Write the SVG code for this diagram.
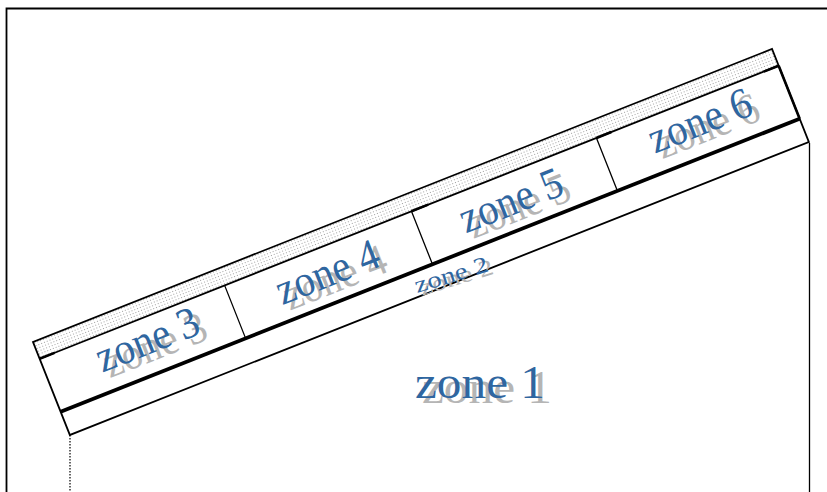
<svg xmlns="http://www.w3.org/2000/svg" width="827" height="492" viewBox="0 0 827 492">
<defs>
<pattern id="dots" width="3" height="3" patternUnits="userSpaceOnUse"><rect x="1" y="1" width="1" height="1" fill="#a0a0a0"/></pattern>
<style>
.ln{stroke:#000;fill:none;stroke-width:1.8}
.thin{stroke:#000;fill:none;stroke-width:1.3}
.thick{stroke:#000;fill:none;stroke-width:3.8}
.tick{stroke:#000;fill:none;stroke-width:2.6}
.lbl{font-family:"Liberation Serif","Times New Roman",serif;fill:#2f66a0}
.sh{font-family:"Liberation Serif","Times New Roman",serif;fill:#b5b5b5}
</style>
</defs>
<rect width="827" height="492" fill="#fff"/>
<g id="frame"><path d="M6.5,492 V8.5 H827" class="ln"/></g>
<g id="connectors">
<path d="M809.5,143 V492" stroke="#000" stroke-width="1.3" fill="none"/>
<path d="M70,435 V492" stroke="#000" stroke-width="1.2" stroke-dasharray="1.5,1.5" fill="none"/>
</g>
<g id="band" transform="translate(33,342) rotate(-21.63)">
<rect x="0" y="0" width="795" height="18" fill="url(#dots)"/>
<path d="M0,100 V0 H795 V100 Z" class="ln"/>
<path d="M0,18 H795" class="ln"/>
<path d="M0,75 H795" class="thick"/>
<path d="M795,18 V75" class="tick"/>
<path d="M0,18 H16 M400,18 H418 M599,18 H615 M779,18 H795" class="tick"/>
<path d="M199,18 V75 M400,18 V75 M599,18 V75" class="thin"/>
</g>
<g id="zone1">
<text class="sh" x="422" y="403" font-size="46" textLength="130" lengthAdjust="spacingAndGlyphs">zone 1</text>
<text class="lbl" x="415" y="398" font-size="46" textLength="130" lengthAdjust="spacingAndGlyphs">zone 1</text>
</g>
<g id="zone2" transform="translate(417,293) rotate(-17)">
<text class="sh" x="4" y="4" font-size="23" textLength="76" lengthAdjust="spacingAndGlyphs">zone 2</text>
<text class="lbl" x="0" y="0" font-size="23" textLength="76" lengthAdjust="spacingAndGlyphs">zone 2</text>
</g>
<g id="zone3" transform="translate(33,342) rotate(-21.63)">
<text class="sh" x="58" y="62" font-size="44" textLength="108" lengthAdjust="spacingAndGlyphs">zone 3</text>
<text class="lbl" x="53" y="54.2" font-size="44" textLength="108" lengthAdjust="spacingAndGlyphs">zone 3</text>
</g>
<g id="zone4" transform="translate(33,342) rotate(-21.63)">
<text class="sh" x="250.3" y="65.6" font-size="44" textLength="108" lengthAdjust="spacingAndGlyphs">zone 4</text>
<text class="lbl" x="245.3" y="57.8" font-size="44" textLength="108" lengthAdjust="spacingAndGlyphs">zone 4</text>
</g>
<g id="zone5" transform="translate(33,342) rotate(-21.63)">
<text class="sh" x="447.3" y="66.6" font-size="44" textLength="108" lengthAdjust="spacingAndGlyphs">zone 5</text>
<text class="lbl" x="442.3" y="58.8" font-size="44" textLength="108" lengthAdjust="spacingAndGlyphs">zone 5</text>
</g>
<g id="zone6" transform="translate(33,342) rotate(-21.63)">
<text class="sh" x="652.4" y="62.1" font-size="44" textLength="108" lengthAdjust="spacingAndGlyphs">zone 6</text>
<text class="lbl" x="647.4" y="54.3" font-size="44" textLength="108" lengthAdjust="spacingAndGlyphs">zone 6</text>
</g>
</svg>
